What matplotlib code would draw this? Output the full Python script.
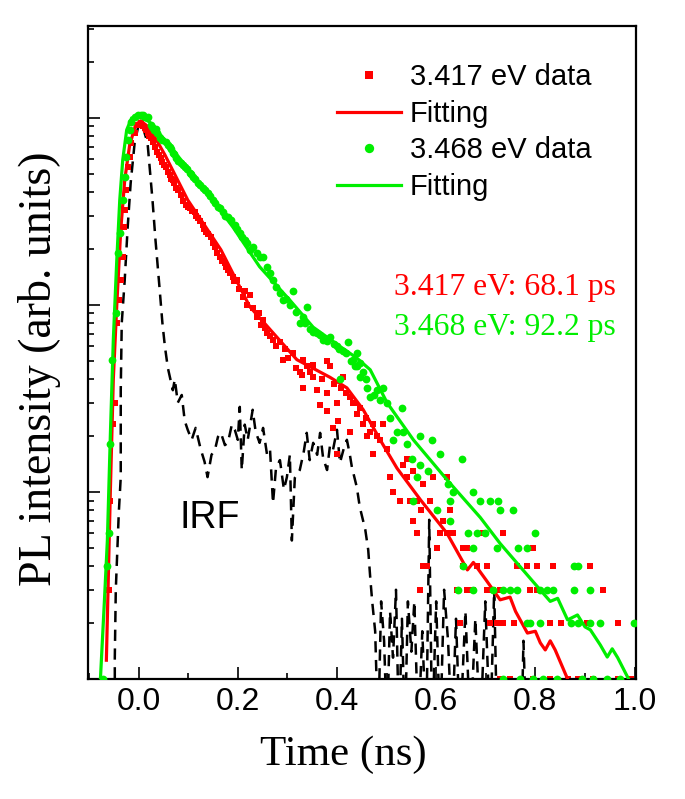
import matplotlib
matplotlib.use("Agg")
import matplotlib.pyplot as plt
from matplotlib.ticker import LogLocator, NullFormatter, MultipleLocator

# ---- data (time in ns, PL counts) ----
red_t = [-0.059, -0.057, -0.051, -0.048, -0.044, -0.040, -0.036, -0.032, -0.030, -0.028,
         -0.026, -0.022, -0.018, -0.016, -0.008, -0.002, 0.004, 0.012, 0.018, 0.024,
         0.034, 0.042, 0.048, 0.055, 0.063, 0.069, 0.075, 0.085, 0.095, 0.103,
         0.113, 0.119, 0.129, 0.135, 0.145, 0.154, 0.164, 0.174, 0.180, 0.190,
         0.198, 0.210, 0.224, 0.238, 0.251, 0.259, 0.271, 0.285, 0.291, 0.311,
         0.331, 0.339, 0.352, 0.380, 0.386, 0.329, 0.352, 0.412, 0.331, 0.360,
         0.380, 0.426, 0.366, 0.400, 0.432, 0.440, 0.380, 0.402, 0.392, 0.426,
         0.453, 0.473, 0.493, 0.461, 0.487, 0.400, 0.473, 0.501, 0.541, 0.533,
         0.554, 0.507, 0.541, 0.594, 0.622, 0.513, 0.574, 0.527, 0.547, 0.562,
         0.588, 0.570, 0.628, 0.554, 0.614, 0.562, 0.608, 0.622, 0.634, 0.695,
         0.735, 0.602, 0.655, 0.663, 0.796, 0.574, 0.582, 0.655, 0.683, 0.703,
         0.764, 0.784, 0.804, 0.836, 0.911, 0.568, 0.642, 0.663, 0.675, 0.703,
         0.715, 0.729, 0.790, 0.804, 0.937, 0.648, 0.709, 0.723, 0.735, 0.756,
         0.830, 0.851, 0.905, 0.966, 0.729, 0.749, 0.796, 0.830, 0.865, 0.885,
         0.917, 0.966, 0.992,
         0.008, 0.015, 0.021, 0.029, 0.038, 0.045, 0.051, 0.059, 0.066, 0.072,
         0.079, 0.089, 0.099, 0.108, 0.116, 0.124, 0.132, 0.140, 0.150, 0.159,
         0.169, 0.177, 0.185, 0.193, 0.203, 0.215, 0.219, 0.230, 0.243, 0.247,
         0.255, 0.265, 0.278, 0.296, 0.302, 0.318, 0.325, 0.345, 0.370, 0.395,
         0.408, 0.418, 0.436, 0.446, 0.458, 0.466, 0.480]
red_c = [3, 9, 23, 30, 80, 106, 136, 181, 261, 322,
         412, 547, 619, 735, 831, 918, 940, 884, 831, 782,
         700, 634, 582, 547, 496, 466, 423, 387, 343, 330,
         314, 292, 268, 246, 231, 204, 181, 168, 154, 141,
         136, 110, 113, 86, 83, 71, 65, 63, 51, 55,
         51, 47, 48, 50, 47, 42, 41, 41, 36, 35,
         34, 32, 29, 30, 30, 26, 27, 24, 22, 21,
         23, 23, 23, 20, 19, 16, 16, 17, 15, 14,
         13, 12, 12, 12, 12, 10, 11, 9, 9, 9,
         9, 8, 8, 7, 7, 6, 6, 6, 6, 6,
         6, 5, 5, 5, 5, 4, 4, 4, 4, 4,
         4, 4, 4, 4, 4, 3, 3, 3, 3, 3,
         3, 3, 3, 3, 3, 2, 2, 2, 2, 2,
         2, 2, 2, 2, 1, 1, 1, 1, 1, 1,
         1, 1, 1,
         905, 860, 800, 745, 660, 610, 560, 515, 470, 450,
         410, 360, 335, 318, 300, 280, 255, 238, 214, 190,
         172, 160, 148, 135, 122, 118, 100, 96, 90, 78,
         75, 68, 60, 58, 52, 46, 44, 44, 40, 38,
         36, 34, 30, 28, 25, 21, 20]

red_fit_t = [-0.065, -0.057, -0.051, -0.044, -0.036, -0.028, -0.018, -0.006, 0.004, 0.022,
             0.053, 0.099, 0.166, 0.224, 0.275, 0.319, 0.386, 0.420, 0.453, 0.487,
             0.521, 0.568, 0.622, 0.663, 0.675, 0.689, 0.700, 0.729, 0.749, 0.760,
             0.784, 0.800, 0.810, 0.820, 0.830, 0.840, 0.865]
red_fit_c = [1.26, 10, 40, 100, 252, 466, 717, 918, 964, 885,
             634, 364, 197, 98, 69, 51, 41, 36, 27.5, 19,
             13.4, 9.1, 6.0, 3.83, 4.2, 3.73, 3.4, 2.65, 2.74, 2.3,
             1.76, 1.8, 1.56, 1.43, 1.6, 1.43, 1.0]

green_t = [-0.071, -0.063, -0.059, -0.057, -0.053, -0.046, -0.042, -0.038, -0.032, -0.028,
           -0.026, -0.022, -0.018, -0.016, -0.008, -0.002, 0.008, 0.018, 0.024, 0.032,
           0.038, 0.044, 0.055, 0.063, 0.069, 0.075, 0.085, 0.093, 0.103, 0.109,
           0.119, 0.129, 0.139, 0.149, 0.160, 0.170, 0.180, 0.194, 0.204, 0.214,
           0.224, 0.238, 0.251, 0.265, 0.271, 0.285, 0.291, 0.305, 0.311, 0.325,
           0.331, 0.339, 0.345, 0.360, 0.372, 0.386, 0.400, 0.412, 0.422, 0.432,
           0.440, 0.446, 0.440, 0.406, 0.446, 0.461, 0.467, 0.481, 0.493, 0.487,
           0.501, 0.531, 0.507, 0.521, 0.533, 0.568, 0.592, 0.513, 0.541, 0.608,
           0.653, 0.552, 0.568, 0.584, 0.562, 0.624, 0.634, 0.675, 0.554, 0.628,
           0.689, 0.709, 0.725, 0.602, 0.729, 0.754, 0.628, 0.665, 0.683, 0.699,
           0.800, 0.723, 0.766, 0.784, 0.675, 0.655, 0.877, 0.885, 0.644, 0.675,
           0.715, 0.735, 0.749, 0.764, 0.810, 0.824, 0.836, 0.877, 0.911, 0.784,
           0.790, 0.810, 0.871, 0.885, 0.911, 0.931, 0.998, 0.735, 0.770, 0.796,
           0.816, 0.844, 0.895, 0.917, 0.945, 0.970,
           0.005, 0.013, 0.028, 0.035, 0.048, 0.059, 0.066, 0.072, 0.080, 0.089,
           0.097, 0.106, 0.114, 0.124, 0.134, 0.144, 0.154, 0.165, 0.175, 0.186,
           0.199, 0.209, 0.219, 0.230, 0.245, 0.258, 0.278, 0.298, 0.318, 0.335,
           0.352, 0.366, 0.380, 0.393, 0.405, 0.418, 0.428, 0.436, 0.452, 0.458,
           0.475]
green_c = [1, 4, 6, 18, 51, 91, 189, 243, 364, 483,
           619, 762, 862, 952, 1012, 1038, 1038, 1012, 918, 862,
           831, 782, 745, 700, 650, 611, 574, 547, 508, 483,
           449, 423, 397, 364, 334, 314, 296, 268, 243, 223,
           197, 190, 181, 148, 136, 116, 106, 100, 118, 80,
           86, 98, 74, 71, 65, 67, 60, 57, 63, 51,
           55, 49, 47, 40, 41, 36, 32, 35, 36, 31,
           30, 28, 25, 21, 21, 20, 19, 19, 18, 16,
           15, 15, 14, 13, 12, 11, 10, 10, 9, 9,
           9, 9, 9, 8, 8, 8, 7, 6, 6, 6,
           6, 5, 5, 5, 5, 4, 4, 4, 3, 3,
           3, 3, 3, 3, 3, 3, 3, 3, 3, 2,
           2, 2, 2, 2, 2, 2, 2, 1, 1, 1,
           1, 1, 1, 1, 1, 1,
           1030, 1010, 890, 870, 760, 720, 680, 640, 590, 560,
           530, 500, 470, 440, 410, 380, 350, 330, 300, 283,
           255, 230, 215, 205, 180, 160, 125, 108, 92, 80,
           72, 69, 64, 62, 58, 55, 50, 47, 44, 40,
           33]

green_fit_t = [-0.077, -0.069, -0.063, -0.057, -0.051, -0.044, -0.038, -0.032, -0.024, -0.014,
               0.002, 0.022, 0.053, 0.123, 0.190, 0.244, 0.305, 0.352, 0.406, 0.440,
               0.467, 0.501, 0.554, 0.622, 0.689, 0.729, 0.796, 0.830, 0.845, 0.865,
               0.885, 0.900, 0.911, 0.931, 0.945, 0.955, 0.966, 0.988]
green_fit_c = [1, 2.6, 5.5, 20, 65, 174, 364, 596, 863, 1000,
               1012, 952, 762, 449, 261, 160, 106, 76, 60, 52,
               45, 30, 19, 11.6, 7.3, 5.3, 3.3, 2.6, 2.7, 2.07,
               2.2, 1.9, 1.83, 1.52, 1.31, 1.45, 1.30, 1.0]

irf_t = [-0.048, -0.048, -0.046, -0.040, -0.036, -0.036, -0.034, -0.028, -0.022, -0.016,
         -0.008, 0.000, 0.006, 0.018, 0.028, 0.034, 0.042, 0.048, 0.053, 0.059,
         0.069, 0.073, 0.079, 0.087, 0.093, 0.099, 0.107, 0.115, 0.125, 0.133,
         0.139, 0.147, 0.154, 0.160, 0.166, 0.174, 0.180, 0.188, 0.194, 0.200,
         0.204, 0.208, 0.214, 0.220, 0.230, 0.236, 0.244, 0.251, 0.259, 0.265,
         0.271, 0.277, 0.285, 0.293, 0.299, 0.305, 0.309, 0.315, 0.325, 0.333,
         0.339, 0.345, 0.352, 0.360, 0.366, 0.372, 0.380, 0.386, 0.392, 0.400,
         0.406, 0.414, 0.420, 0.426, 0.430, 0.440, 0.446, 0.457, 0.463, 0.467,
         0.471, 0.477, 0.483, 0.489, 0.495, 0.501, 0.507, 0.513, 0.519, 0.525,
         0.531, 0.537, 0.543, 0.550, 0.556, 0.564, 0.572, 0.580, 0.586, 0.592,
         0.600, 0.608, 0.616, 0.624, 0.632, 0.640, 0.648, 0.659, 0.669, 0.679,
         0.689, 0.699, 0.709, 0.717, 0.723, 0.772, 0.776, 0.782]
irf_c = [0.4, 1.3, 3, 7.7, 12, 35, 80, 136, 261, 449,
         735, 918, 940, 735, 364, 223, 125, 80, 60, 46,
         35, 40, 30, 33, 24, 21.5, 19, 22, 17, 14.5,
         12, 15.8, 16.8, 19.7, 20.7, 17.8, 18.3, 22.9, 21.5, 19,
         28.5, 13.1, 22.9, 19, 27.5, 21, 18.3, 22, 15.8, 16.8,
         8.7, 13.4, 14.8, 10.3, 12, 15.8, 5.5, 11.9, 13.1, 16.4,
         20.7, 14.8, 18.3, 15.8, 20.7, 15.2, 13.1, 17.8, 16.8, 21.5,
         14.3, 17.2, 19, 15.8, 13.6, 10.6, 8.3, 6.3, 4.9, 3.5,
         2.6, 1.8, 0.5, 2.6, 1.6, 0.5, 2.3, 1.3, 3, 0.5,
         2.1, 0.5, 2.6, 1.4, 2.6, 0.5, 1.8, 0.5, 7.1, 0.5,
         2.6, 0.5, 3, 1.6, 0.5, 2.1, 0.5, 2.3, 0.5, 2.1,
         0.5, 2.6, 0.5, 3, 0.5, 0.5, 1.6, 0.5]

RED = '#ff0000'
GREEN = '#00ee00'

fig = plt.figure(figsize=(6.85, 7.99), dpi=100)
ax = fig.add_axes([0.1285, 0.1502, 0.8, 0.8173])

ax.plot(irf_t, irf_c, color='black', lw=1.8, ls=(0, (4.5, 3)), zorder=1)
ax.plot(red_t, red_c, ls='none', marker='s', ms=5, mew=0, color=RED,
        label='3.417 eV data', zorder=2)
ax.plot(red_fit_t, red_fit_c, color=RED, lw=2.3, label='Fitting', zorder=3)
ax.plot(green_t, green_c, ls='none', marker='o', ms=5.6, mew=0, color=GREEN,
        label='3.468 eV data', zorder=4)
ax.plot(green_fit_t, green_fit_c, color=GREEN, lw=2.3, label='Fitting', zorder=5)

ax.set_yscale('log')
ax.set_xlim(-0.102, 1.003)
ax.set_ylim(1, 3100)
ax.xaxis.set_major_locator(MultipleLocator(0.2))
ax.xaxis.set_minor_locator(MultipleLocator(0.1))
ax.yaxis.set_major_locator(LogLocator(base=10))
ax.yaxis.set_minor_locator(LogLocator(base=10, subs=range(2, 10)))
ax.yaxis.set_major_formatter(NullFormatter())
ax.yaxis.set_minor_formatter(NullFormatter())

for s in ['top', 'bottom', 'left', 'right']:
    ax.spines[s].set_linewidth(1.6)
ax.tick_params(axis='both', which='major', direction='in', length=8.5, width=1.2)
ax.tick_params(axis='both', which='minor', direction='in', length=4.5, width=1.2)
ax.tick_params(axis='x', which='major', pad=6, labelsize=23)
for lab in ax.get_xticklabels():
    lab.set_family('Liberation Sans')

leg = ax.legend(loc='upper left', bbox_to_anchor=(337 / 685, 1 - 63 / 799),
                bbox_transform=fig.transFigure, frameon=False, borderpad=0,
                borderaxespad=0, handlelength=2.2, handletextpad=0.3,
                labelspacing=0.3, numpoints=1, markerscale=1.2,
                prop={'family': 'Liberation Sans', 'size': 21})

ax.text(0.962, 113, '3.417 eV: 68.1 ps', color=RED, ha='right', va='baseline',
        family='Liberation Serif', fontsize=22.8)
ax.text(0.962, 69, '3.468 eV: 92.2 ps', color=GREEN, ha='right', va='baseline',
        family='Liberation Serif', fontsize=22.8)
ax.text(0.083, 6.4, 'IRF', color='black', ha='left', va='baseline',
        family='Liberation Sans', fontsize=27)

fig.text(343 / 685, 1 - 755 / 799, 'Time (ns)', ha='center', va='center',
         family='Liberation Serif', fontsize=31)
fig.text(40 / 685, 1 - 369 / 799, 'PL intensity (arb. units)', ha='center', va='center',
         rotation=90, family='Liberation Serif', fontsize=33)

fig.savefig('out.png', dpi=100)
